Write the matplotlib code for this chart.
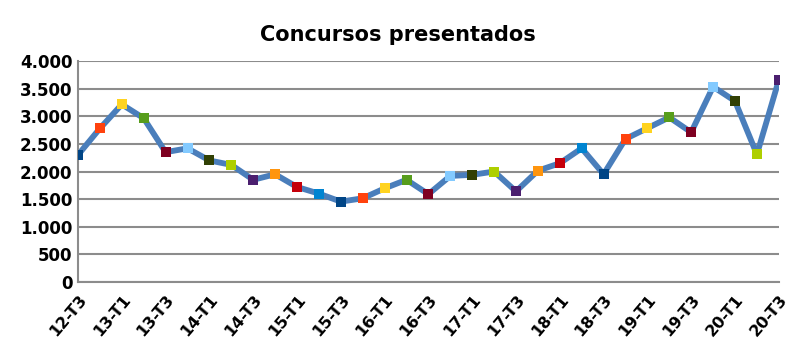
import matplotlib
matplotlib.use("Agg")
import matplotlib.pyplot as plt

quarters = ["12-T3", "12-T4",
            "13-T1", "13-T2", "13-T3", "13-T4",
            "14-T1", "14-T2", "14-T3", "14-T4",
            "15-T1", "15-T2", "15-T3", "15-T4",
            "16-T1", "16-T2", "16-T3", "16-T4",
            "17-T1", "17-T2", "17-T3", "17-T4",
            "18-T1", "18-T2", "18-T3", "18-T4",
            "19-T1", "19-T2", "19-T3", "19-T4",
            "20-T1", "20-T2", "20-T3"]
concursos = [2300, 2780, 3215, 2965, 2350, 2420, 2200, 2120, 1850, 1950,
             1720, 1600, 1455, 1515, 1695, 1850, 1590, 1920, 1940, 2000,
             1640, 2015, 2150, 2420, 1950, 2590, 2785, 2980, 2710, 3535,
             3275, 2310, 3655]
yticks = [0, 500, 1000, 1500, 2000, 2500, 3000, 3500, 4000]
ytick_labels = ["0", "500", "1.000", "1.500", "2.000", "2.500", "3.000", "3.500", "4.000"]

# LibreOffice default palette, cycled over the points
palette = ["#004586", "#ff420e", "#ffd320", "#579d1c", "#7e0021", "#83caff",
           "#314004", "#aecf00", "#4b1f6f", "#ff950e", "#c5000b", "#0084d1"]

fig = plt.figure(figsize=(8, 3.59), dpi=100)
ax = fig.add_axes([0.0975, 0.2145, 0.876, 0.6155])

x = list(range(len(quarters)))
ax.plot(x, concursos, color="#4a7ebb", linewidth=4.2, zorder=2)
for i, v in enumerate(concursos):
    ax.plot(i, v, marker="s", markersize=7.5, color=palette[i % len(palette)],
            markeredgewidth=0, zorder=3)

ax.set_xlim(0, len(quarters) - 1)
ax.set_ylim(0, 4000)
ax.set_yticks(yticks)
ax.set_yticklabels(ytick_labels, fontsize=12, fontweight="bold")
ax.set_xticks(x[::2])
ax.set_xticklabels(quarters[::2], fontsize=11.5, fontweight="bold",
                   rotation=50, ha="right", rotation_mode="anchor")
ax.tick_params(axis="both", length=0, pad=4)
ax.tick_params(axis="x", pad=7)

ax.grid(axis="y", color="#8c8c8c", linewidth=1.5)
ax.set_axisbelow(True)
for side in ["top", "right"]:
    ax.spines[side].set_visible(False)
ax.spines["left"].set_color("#8c8c8c")
ax.spines["bottom"].set_color("#8c8c8c")
ax.spines["left"].set_linewidth(1.5)
ax.spines["bottom"].set_linewidth(1.5)

fig.text(0.497, 0.902, "Concursos presentados", ha="center", va="center",
         fontsize=15, fontweight="bold")

fig.savefig("out.png", dpi=100)
